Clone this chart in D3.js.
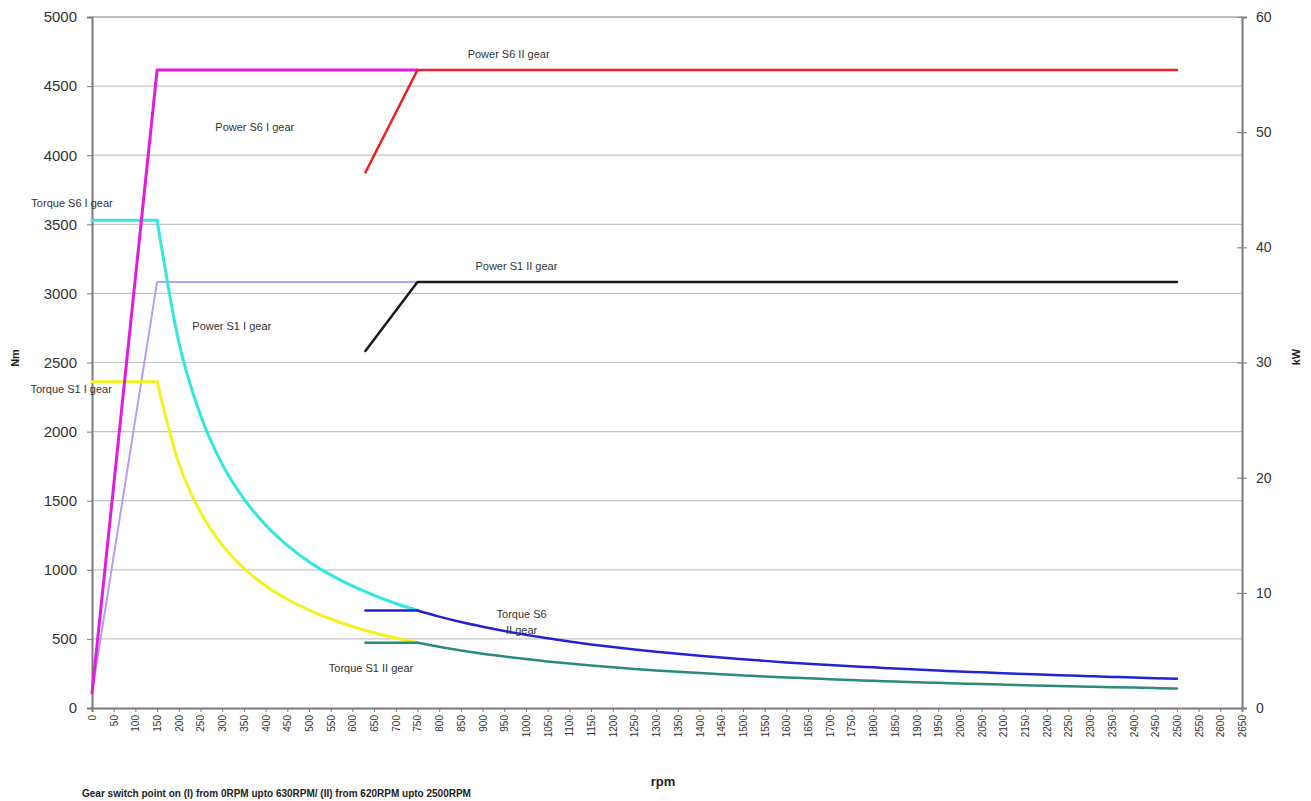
<!DOCTYPE html>
<html>
<head>
<meta charset="utf-8">
<script src="https://cdn.jsdelivr.net/npm/d3@7"></script>
<style>
  html, body { margin: 0; padding: 0; background: #fff; }
  svg { display: block; font-family: Arial, "Liberation Sans", sans-serif; }
</style>
</head>
<body>
<svg id="chart" width="1311" height="801"></svg>
<script>
// ---- Data ----
const rpmTicks = d3.range(0, 2651, 50);          // category tick labels 0..2650
const nmTicks = [0, 500, 1000, 1500, 2000, 2500, 3000, 3500, 4000, 4500, 5000];
const kwTicks = [0, 10, 20, 30, 40, 50, 60];

// Torque, gear I (Nm)
const rpmGearI = [0, 50, 100, 150, 200, 250, 300, 350, 400, 450, 500, 550, 600, 650, 700, 750];
const torqueS6I = [3530, 3530, 3530, 3530, 2648, 2118, 1765, 1513, 1324, 1177, 1059, 963, 883, 815, 756, 706];
const torqueS1I = [2360, 2360, 2360, 2360, 1770, 1416, 1180, 1011, 885, 787, 708, 644, 590, 545, 506, 472];

// Torque, gear II (Nm)
const rpmGearII = [630, 750, 800, 850, 900, 950, 1000, 1050, 1100, 1150, 1200, 1250, 1300, 1350, 1400, 1450,
  1500, 1550, 1600, 1650, 1700, 1750, 1800, 1850, 1900, 1950, 2000, 2050, 2100, 2150, 2200, 2250, 2300,
  2350, 2400, 2450, 2500];
const torqueS6II = [705, 705, 661, 622, 588, 557, 529, 504, 481, 460, 441, 423, 407, 392, 378, 365,
  353, 341, 330, 320, 311, 302, 294, 286, 278, 271, 264, 258, 252, 246, 240, 235, 230,
  225, 220, 216, 212];
const torqueS1II = [472, 472, 443, 416, 393, 373, 354, 337, 322, 308, 295, 283, 272, 262, 253, 244,
  236, 228, 221, 215, 208, 202, 197, 191, 186, 182, 177, 173, 169, 165, 161, 157, 154,
  151, 148, 144, 142];

// Power (kW)
const rpmPowerI = [0, 150, 750];
const powerS6I = [1.3, 55.4, 55.4];
const powerS1I = [1.3, 37.0, 37.0];
const rpmPowerII = [630, 750, 2500];
const powerS6II = [46.5, 55.4, 55.4];
const powerS1II = [31.0, 37.0, 37.0];

const labels = [
  { text: "Power S6 II gear", rpm: 960, nm: 4730 },
  { text: "Power S6 I gear", rpm: 375, nm: 4200 },
  { text: "Torque S6 I gear", rpm: -46, nm: 3650 },
  { text: "Power S1 II gear", rpm: 978, nm: 3200 },
  { text: "Power S1 I gear", rpm: 322, nm: 2760 },
  { text: "Torque S1 I gear", rpm: -48, nm: 2310 },
  { text: "Torque S6", rpm: 990, nm: 680 },
  { text: "II gear", rpm: 990, nm: 560 },
  { text: "Torque S1 II gear", rpm: 643, nm: 290 }
];

// ---- Layout ----
const svg = d3.select("#chart");
const L = 92, R = 1242, T = 17, B = 708;

const x = d3.scaleLinear().domain([0, 2650]).range([L, R]);
const yNm = d3.scaleLinear().domain([0, 5000]).range([B, T]);
const yKw = d3.scaleLinear().domain([0, 60]).range([B, T]);

// gridlines
svg.append("g").selectAll("line").data(nmTicks.filter(d => d > 0)).join("line")
  .attr("x1", L).attr("x2", R)
  .attr("y1", d => yNm(d)).attr("y2", d => yNm(d))
  .attr("stroke", "#c4c4c4").attr("stroke-width", 1.2);

// Left axis
const gL = svg.append("g").attr("transform", `translate(${L},0)`)
  .call(d3.axisLeft(yNm).tickValues(nmTicks).tickSize(5).tickPadding(10).tickFormat(d3.format("d")));
gL.select(".domain").attr("stroke", "#7a7a7a").attr("stroke-width", 2);
gL.selectAll(".tick line").attr("stroke", "#7a7a7a");
gL.selectAll("text").attr("font-size", 15).attr("fill", "#333").attr("font-family", "Arial, Liberation Sans, sans-serif");

// Right axis
const gR = svg.append("g").attr("transform", `translate(${R},0)`)
  .call(d3.axisRight(yKw).tickValues(kwTicks).tickSize(5).tickPadding(9));
gR.select(".domain").attr("stroke", "#7a7a7a").attr("stroke-width", 2);
gR.selectAll(".tick line").attr("stroke", "#7a7a7a").attr("x1", -5);
gR.selectAll("text").attr("font-size", 14).attr("fill", "#333").attr("font-family", "Arial, Liberation Sans, sans-serif");

// Bottom axis
const gB = svg.append("g").attr("transform", `translate(0,${B})`)
  .call(d3.axisBottom(x).tickValues(rpmTicks).tickSize(4).tickFormat(d3.format("d")));
gB.select(".domain").attr("stroke", "#7a7a7a").attr("stroke-width", 2);
gB.selectAll(".tick line").attr("stroke", "#7a7a7a");
gB.selectAll("text")
  .attr("font-size", 10).attr("fill", "#333").attr("font-family", "Arial, Liberation Sans, sans-serif")
  .attr("transform", "rotate(-90)")
  .attr("text-anchor", "end")
  .attr("x", -7).attr("y", 0).attr("dy", "0.35em");

// top border
svg.append("line").attr("x1", L).attr("x2", R).attr("y1", T).attr("y2", T)
  .attr("stroke", "#9a9a9a").attr("stroke-width", 1.2);

// ---- Lines ----
// flat part drawn straight, falling part drawn smooth, joined at the knee point
function drawLine(xs, ys, yScale, color, width, knee) {
  const pts = xs.map((v, i) => [v, ys[i]]);
  const parts = knee == null ? [[pts, d3.curveLinear]]
    : [[pts.slice(0, knee + 1), d3.curveLinear], [pts.slice(knee), d3.curveMonotoneX]];
  parts.forEach(([p, c]) => {
    svg.append("path").datum(p)
      .attr("fill", "none").attr("stroke", color).attr("stroke-width", width)
      .attr("stroke-linejoin", "round").attr("stroke-linecap", "round")
      .attr("d", d3.line().curve(c).x(d => x(d[0])).y(d => yScale(d[1])));
  });
}

drawLine(rpmPowerI, powerS1I, yKw, "#b99cf5", 2);
drawLine(rpmGearI, torqueS1I, yNm, "#f2f21e", 3, 3);
drawLine(rpmGearI, torqueS6I, yNm, "#33e6e0", 3, 3);
drawLine(rpmPowerI, powerS6I, yKw, "#e01ce0", 3);
drawLine(rpmGearII, torqueS1II, yNm, "#2c8a7c", 2.5, 1);
drawLine(rpmGearII, torqueS6II, yNm, "#2323d6", 2.5, 1);
drawLine(rpmPowerII, powerS6II, yKw, "#ee1c25", 2.5);
drawLine(rpmPowerII, powerS1II, yKw, "#1a1a1a", 2.5);

// ---- Annotations ----
svg.append("g").selectAll("text").data(labels).join("text")
  .attr("x", d => x(d.rpm)).attr("y", d => yNm(d.nm))
  .attr("text-anchor", "middle").attr("dy", "0.35em")
  .attr("font-size", 11).attr("fill", "#333")
  .text(d => d.text);

// axis titles
svg.append("text").attr("transform", "translate(19,358) rotate(-90)")
  .attr("text-anchor", "middle").attr("font-size", 11).attr("font-weight", "bold").attr("fill", "#222")
  .text("Nm");
svg.append("text").attr("transform", "translate(1300,357) rotate(-90)")
  .attr("text-anchor", "middle").attr("font-size", 11).attr("font-weight", "bold").attr("fill", "#222")
  .text("kW");
svg.append("text").attr("x", 663).attr("y", 786)
  .attr("text-anchor", "middle").attr("font-size", 13).attr("font-weight", "bold").attr("fill", "#222")
  .text("rpm");
svg.append("text").attr("x", 82).attr("y", 797)
  .attr("font-size", 10).attr("font-weight", "bold").attr("fill", "#222")
  .text("Gear switch point on (I) from 0RPM upto 630RPM/  (II) from 620RPM upto 2500RPM");
</script>
</body>
</html>
